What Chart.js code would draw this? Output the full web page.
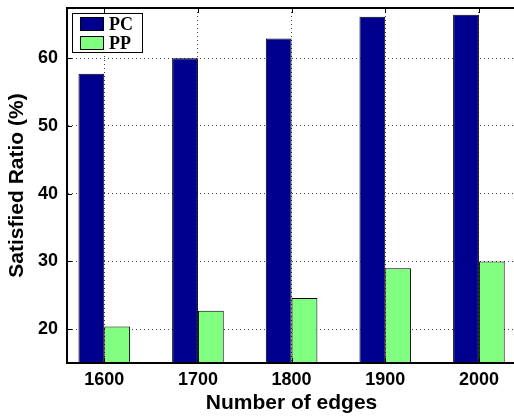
<!DOCTYPE html>
<html lang="en">
<head>
<meta charset="UTF-8">
<title>Satisfied Ratio</title>
<script src="https://cdn.jsdelivr.net/npm/chart.js@4.4.0/dist/chart.umd.min.js"></script>
<style>
html,body{margin:0;padding:0;background:#fff;overflow:hidden;width:514px;height:419px}
canvas{display:block}
</style>
</head>
<body>
<!-- the plot box runs a little past the right edge of the window, as in the original crop -->
<canvas id="chart" width="522" height="419"></canvas>
<script>
/* ---------- data ---------- */
const edges   = [1600, 1700, 1800, 1900, 2000];
const pcRatio = [57.7, 60.0, 62.9, 66.1, 66.4];
const ppRatio = [20.4, 22.7, 24.6, 29.0, 30.0];
const yTicks  = [20, 30, 40, 50, 60];

const sans  = "'Liberation Sans', Arial, Helvetica, sans-serif";
const serif = "'Liberation Serif', 'Times New Roman', serif";

/* ---------- top frame line + inside tick marks ---------- */
const frame = {
  id: 'frame',
  afterDatasetsDraw(chart){
    const {ctx, chartArea: a, scales: {x, y}} = chart;
    ctx.save();
    ctx.strokeStyle = '#000';
    ctx.lineWidth = 2;
    ctx.beginPath(); ctx.moveTo(a.left, a.top); ctx.lineTo(a.right, a.top); ctx.stroke();
    ctx.lineWidth = 1;
    ctx.beginPath();
    x.ticks.forEach(t => {
      const px = Math.round(x.getPixelForValue(t.value)) + 0.5;
      ctx.moveTo(px, a.top); ctx.lineTo(px, a.top + 5);
      ctx.moveTo(px, a.bottom); ctx.lineTo(px, a.bottom - 5);
    });
    y.ticks.forEach(t => {
      const py = Math.round(y.getPixelForValue(t.value)) + 0.5;
      ctx.moveTo(a.left, py); ctx.lineTo(a.left + 5, py);
    });
    ctx.stroke();
    ctx.restore();
  }
};

/* ---------- boxed legend in the upper left corner ---------- */
const boxLegend = {
  id: 'boxLegend',
  afterDraw(chart){
    const {ctx, chartArea: a} = chart;
    const x = a.left + 5, y = a.top + 5, w = 71, h = 40;
    ctx.save();
    ctx.fillStyle = '#fff'; ctx.fillRect(x, y, w, h);
    ctx.strokeStyle = '#000'; ctx.lineWidth = 1;
    ctx.strokeRect(x + 0.5, y + 0.5, w - 1, h - 1);
    ctx.font = `bold 18px ${serif}`;
    ctx.textBaseline = 'middle';
    chart.data.datasets.forEach((ds, i) => {
      const sy = Math.round(y + 4 + i * 19.3);
      ctx.fillStyle = ds.backgroundColor; ctx.fillRect(x + 8, sy, 24, 14);
      ctx.strokeRect(x + 8.5, sy + 0.5, 23, 13);
      ctx.fillStyle = '#000';
      ctx.fillText(ds.label, x + 37, sy + 8);
    });
    ctx.restore();
  }
};

new Chart(document.getElementById('chart'), {
  type: 'bar',
  data: {
    labels: edges,
    datasets: [
      {label: 'PC', data: pcRatio, backgroundColor: '#00008F', borderColor: '#000', borderWidth: 1},
      {label: 'PP', data: ppRatio, backgroundColor: '#80FF80', borderColor: '#000', borderWidth: 1}
    ]
  },
  options: {
    responsive: false,
    animation: false,
    devicePixelRatio: 1,
    categoryPercentage: 0.551,
    barPercentage: 1,
    layout: {padding: {top: 8, left: 0, right: 6, bottom: 0}},
    plugins: {legend: {display: false}, tooltip: {enabled: false}},
    scales: {
      x: {
        type: 'linear',
        offset: false,
        min: 1560.2, max: 2039.6,
        afterBuildTicks: s => { s.ticks = edges.map(v => ({value: v})); },
        afterFit: s => { s.height = 56; s.paddingLeft = 0; s.paddingRight = 0; },
        grid: {color: '#444', lineWidth: 1, drawTicks: false, offset: false},
        border: {display: true, color: '#000', width: 2, dash: [1, 3], z: 1},
        ticks: {color: '#000', font: {family: sans, size: 18, weight: 'bold'}, padding: 6,
                autoSkip: false, maxRotation: 0, callback: v => String(v)},
        title: {display: true, text: 'Number of edges', color: '#000',
                font: {family: sans, size: 21, weight: 'bold'}, padding: {top: 0, bottom: 3},
                align: 'center'}
      },
      y: {
        min: 15, max: 67.4,
        afterBuildTicks: s => { s.ticks = yTicks.map(v => ({value: v})); },
        afterFit: s => { s.width = 67; s.paddingTop = 0; s.paddingBottom = 0; },
        grid: {color: '#444', lineWidth: 1, drawTicks: false},
        border: {display: true, color: '#000', width: 2, dash: [1, 3], z: 1},
        ticks: {color: '#000', font: {family: sans, size: 18, weight: 'bold'}, padding: 9},
        title: {display: true, text: 'Satisfied Ratio (%)', color: '#000',
                font: {family: sans, size: 21, weight: 'bold'}, padding: {top: 5, bottom: 0}}
      }
    }
  },
  plugins: [frame, boxLegend]
});
</script>
</body>
</html>
